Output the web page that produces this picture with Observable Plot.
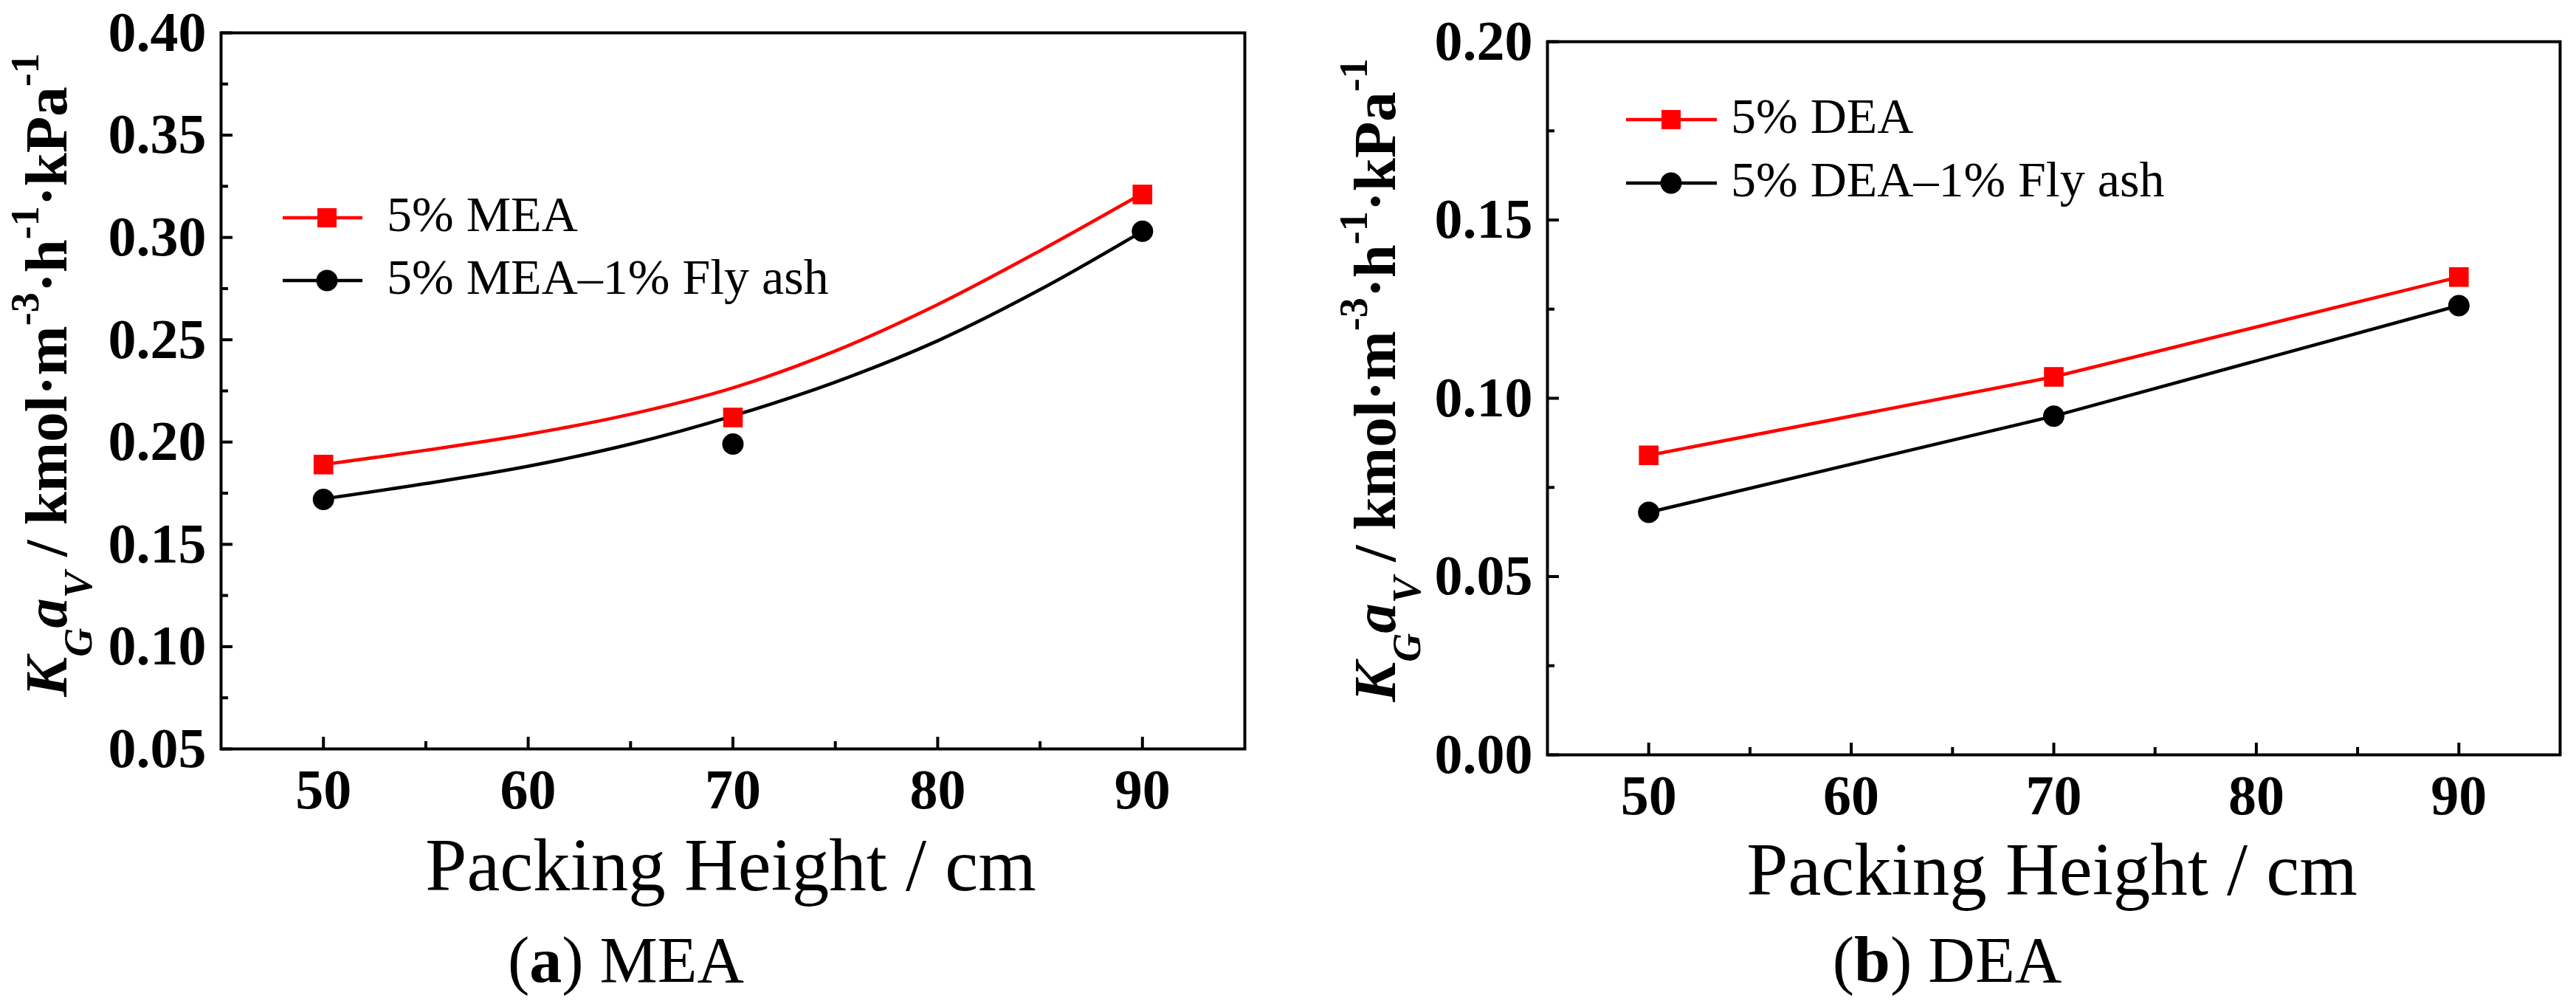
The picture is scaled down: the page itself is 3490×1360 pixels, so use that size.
<!DOCTYPE html>
<html><head><meta charset="utf-8">
<script src="https://cdn.jsdelivr.net/npm/d3@7"></script>
<script src="https://cdn.jsdelivr.net/npm/@observablehq/plot@0.6"></script>
<style>
html,body{margin:0;padding:0;background:#fff;}
#fig{position:relative;width:3490px;height:1360px;background:#fff;overflow:hidden;}
.panel{position:absolute;top:0;}
</style></head><body><div id="fig"></div>
<script>
// ---------- data ----------
const heights = [50, 70, 90];                       // packing height, cm
const meaPoints = [0.189, 0.212, 0.321];            // 5% MEA
const meaFlyPoints = [0.172, 0.199, 0.303];         // 5% MEA–1% Fly ash
const fitHeights = [50, 55, 60, 65, 70, 75, 80, 85, 90];
const meaFit = [0.189, 0.1960, 0.2038, 0.2136, 0.2265, 0.2445, 0.2672, 0.2935, 0.3215];
const meaFlyFit = [0.1722, 0.1797, 0.1882, 0.1990, 0.2128, 0.2293, 0.2495, 0.2745, 0.3030];
const deaPoints = [0.084, 0.106, 0.134];            // 5% DEA
const deaFlyPoints = [0.068, 0.095, 0.126];         // 5% DEA–1% Fly ash

const xMajor = [50, 60, 70, 80, 90];
const xMinor = [55, 65, 75, 85];
const yMajorA = [0.05, 0.10, 0.15, 0.20, 0.25, 0.30, 0.35, 0.40];
const yMinorA = [0.075, 0.125, 0.175, 0.225, 0.275, 0.325, 0.375];
const yMajorB = [0.00, 0.05, 0.10, 0.15, 0.20];
const yMinorB = [0.025, 0.075, 0.125, 0.175];

const seriesA = ["5% MEA", "5% MEA\u20131% Fly ash"];
const seriesB = ["5% DEA", "5% DEA\u20131% Fly ash"];
const xTitle = "Packing Height / cm";
const captions = [["a", " MEA"], ["b", " DEA"]];

const RED = "#ff0000", BLACK = "#000000";
const SERIF = "'Liberation Serif','Times New Roman',serif";

function makePanel(cfg) {
  const fmtY = d3.format(".2f");
  const marks = [
    Plot.frame({stroke: BLACK, strokeWidth: 4}),
    Plot.axisY({ticks: cfg.yMajor, tickSize: -16, strokeWidth: 4, tickFormat: () => "", label: null}),
    Plot.axisY({ticks: cfg.yMinor, tickSize: -10, strokeWidth: 4, tickFormat: () => "", label: null}),
    Plot.axisY({ticks: cfg.yMajor, tickSize: 0, tickPadding: 20, tickFormat: fmtY, label: null,
                fontSize: 76, fontWeight: "bold", fontFamily: SERIF, fill: BLACK}),
    Plot.axisX({ticks: xMajor, tickSize: -16, strokeWidth: 4, tickFormat: () => "", label: null}),
    Plot.axisX({ticks: xMinor, tickSize: -10, strokeWidth: 4, tickFormat: () => "", label: null}),
    Plot.axisX({ticks: xMajor, tickSize: 0, tickPadding: 27, tickFormat: d3.format("d"), label: null,
                fontSize: 76, fontWeight: "bold", fontFamily: SERIF, fill: BLACK}),
    ...cfg.lines,
    Plot.dot(heights.map((h, i) => ({h, v: cfg.p1[i]})), {x: "h", y: "v", symbol: "square", r: 15, fill: RED, stroke: "none"}),
    Plot.dot(heights.map((h, i) => ({h, v: cfg.p2[i]})), {x: "h", y: "v", symbol: "circle", r: 14.5, fill: BLACK, stroke: "none"})
  ];
  const svg = Plot.plot({
    width: 1745, height: 1360,
    marginLeft: cfg.ml, marginRight: cfg.mr, marginTop: cfg.mt, marginBottom: cfg.mb,
    x: {domain: [45, 95]},
    y: {domain: cfg.yDomain},
    style: {background: "white", fontFamily: SERIF, overflow: "visible"},
    marks
  });
  const s = d3.select(svg);

  // y-axis title with sub/superscripts
  const t = s.append("text")
    .attr("transform", `translate(${cfg.ytX},${cfg.ytY}) rotate(-90)`)
    .attr("text-anchor", "middle").attr("font-family", SERIF)
    .attr("font-weight", "bold").attr("font-size", 81).attr("fill", BLACK);
  const sub = 34, sup = 38, small = 54;
  t.append("tspan").attr("font-style", "italic").text("K");
  t.append("tspan").attr("font-style", "italic").attr("font-size", small).attr("dy", sub).text("G");
  t.append("tspan").attr("font-style", "italic").attr("dy", -sub).text("a");
  t.append("tspan").attr("font-style", "italic").attr("font-size", small).attr("dy", sub).text("V");
  t.append("tspan").attr("dy", -sub).text(" / kmol\u00b7m");
  t.append("tspan").attr("font-size", small).attr("dy", -sup).text("-3");
  t.append("tspan").attr("dy", sup).text("\u00b7h");
  t.append("tspan").attr("font-size", small).attr("dy", -sup).text("-1");
  t.append("tspan").attr("dy", sup).text("\u00b7kPa");
  t.append("tspan").attr("font-size", small).attr("dy", -sup).text("-1");

  // x-axis title
  s.append("text").attr("x", cfg.xtX).attr("y", cfg.xtY).attr("text-anchor", "middle")
    .attr("font-family", SERIF).attr("font-size", 101).attr("fill", BLACK).text(xTitle);

  // caption
  const c = s.append("text").attr("x", cfg.capX).attr("y", 1330).attr("text-anchor", "middle")
    .attr("font-family", SERIF).attr("font-size", 88).attr("fill", BLACK);
  c.append("tspan").text("(");
  c.append("tspan").attr("font-weight", "bold").text(cfg.caption[0]);
  c.append("tspan").text(")" + cfg.caption[1]);

  // legend
  const sym = [d3.symbol(d3.symbolSquare, 26 * 26)(), d3.symbol(d3.symbolCircle, Math.PI * 14.5 * 14.5)()];
  const cols = [RED, BLACK];
  cfg.names.forEach((name, i) => {
    const y = cfg.legY[i];
    const g = s.append("g");
    g.append("line").attr("x1", cfg.legX1).attr("x2", cfg.legX2).attr("y1", y).attr("y2", y)
      .attr("stroke", cols[i]).attr("stroke-width", 4.5);
    g.append("path").attr("d", sym[i]).attr("transform", `translate(${cfg.legM},${y})`).attr("fill", cols[i]);
    g.append("text").attr("x", cfg.legT).attr("y", y + 18).attr("text-anchor", "start")
      .attr("font-family", SERIF).attr("font-size", 68).attr("fill", BLACK).text(name);
  });
  return svg;
}

const lineA = [
  Plot.line(fitHeights.map((h, i) => ({h, v: meaFit[i]})), {x: "h", y: "v", stroke: RED, strokeWidth: 4.5, curve: "catmull-rom"}),
  Plot.line(fitHeights.map((h, i) => ({h, v: meaFlyFit[i]})), {x: "h", y: "v", stroke: BLACK, strokeWidth: 4.5, curve: "catmull-rom"})
];
const lineB = [
  Plot.line(heights.map((h, i) => ({h, v: deaPoints[i]})), {x: "h", y: "v", stroke: RED, strokeWidth: 4.5}),
  Plot.line(heights.map((h, i) => ({h, v: deaFlyPoints[i]})), {x: "h", y: "v", stroke: BLACK, strokeWidth: 4.5})
];

const panelA = makePanel({
  ml: 299, mr: 59, mt: 44, mb: 346, yDomain: [0.05, 0.40],
  yMajor: yMajorA, yMinor: yMinorA, lines: lineA, p1: meaPoints, p2: meaFlyPoints,
  ytX: 90, ytY: 508, xtX: 990, xtY: 1206, capX: 848, caption: captions[0],
  names: seriesA, legY: [295, 380], legX1: 383, legX2: 491, legM: 443, legT: 524
});
const panelB = makePanel({
  ml: 351, mr: 22, mt: 56, mb: 338, yDomain: [0, 0.20],
  yMajor: yMajorB, yMinor: yMinorB, lines: lineB, p1: deaPoints, p2: deaFlyPoints,
  ytX: 145, ytY: 515, xtX: 1035, xtY: 1212, capX: 893, caption: captions[1],
  names: seriesB, legY: [162, 248], legX1: 458, legX2: 581, legM: 519, legT: 600
});

const fig = document.getElementById("fig");
const wa = document.createElement("div"); wa.className = "panel"; wa.style.left = "0px"; wa.appendChild(panelA);
const wb = document.createElement("div"); wb.className = "panel"; wb.style.left = "1745px"; wb.appendChild(panelB);
fig.appendChild(wa); fig.appendChild(wb);
</script></body></html>
